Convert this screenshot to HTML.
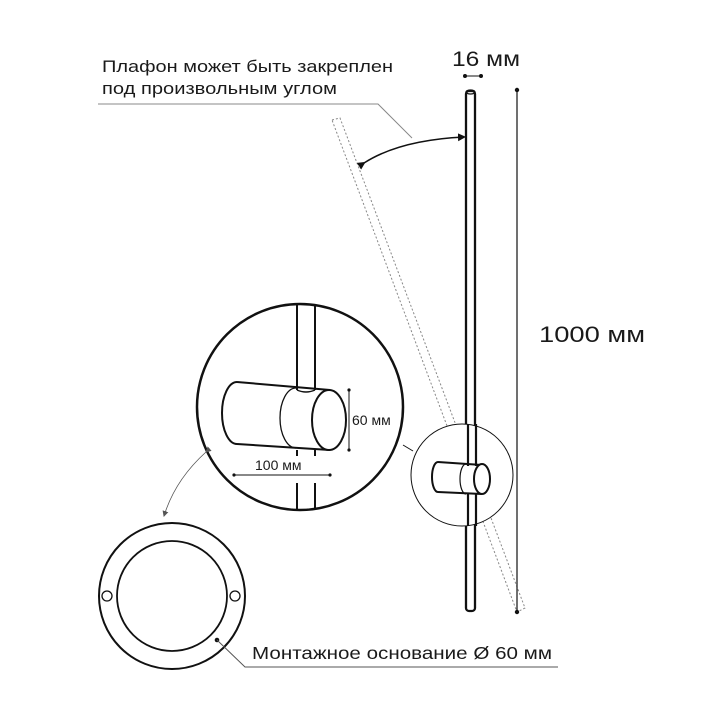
<!DOCTYPE html>
<html><head><meta charset="utf-8"><style>
html,body{margin:0;padding:0;background:#fff;}
svg{display:block;}
text{font-family:"Liberation Sans","DejaVu Sans",sans-serif;fill:#1a1a1a;font-weight:500;}
</style></head><body>
<svg width="720" height="720" viewBox="0 0 720 720" xmlns="http://www.w3.org/2000/svg">
<defs>
<marker id="ah" markerWidth="8" markerHeight="8" refX="6" refY="4" orient="auto" markerUnits="userSpaceOnUse">
<path d="M0,0 L8,4 L0,8 z" fill="#111"/></marker>
<marker id="ahs" markerWidth="6" markerHeight="6" refX="5" refY="3" orient="auto" markerUnits="userSpaceOnUse">
<path d="M0,0 L6,3 L0,6 z" fill="#555"/></marker>
</defs>
<text x="102" y="72" font-size="17" textLength="291" lengthAdjust="spacingAndGlyphs">Плафон может быть закреплен</text>
<text x="102" y="94" font-size="17" textLength="235" lengthAdjust="spacingAndGlyphs">под произвольным углом</text>
<polyline points="98,104 378,104 412,138" fill="none" stroke="#888" stroke-width="1"/>
<text x="452" y="66" font-size="21" textLength="68" lengthAdjust="spacingAndGlyphs">16 мм</text>
<line x1="465" y1="76" x2="481" y2="76" stroke="#111" stroke-width="1"/>
<circle cx="465" cy="76" r="2" fill="#111"/><circle cx="481" cy="76" r="2" fill="#111"/>
<polygon points="332,120 340,118 525,608 517,612" fill="none" stroke="#888" stroke-width="1" stroke-dasharray="2,2"/>
<rect x="466" y="91" width="9" height="520" rx="3" fill="none" stroke="#111" stroke-width="2.3"/>
<ellipse cx="470.5" cy="92" rx="4.5" ry="2" fill="none" stroke="#111" stroke-width="1.2"/>
<path d="M364,163 Q400,140 464,137" fill="none" stroke="#111" stroke-width="1.5" marker-end="url(#ah)" marker-start="url(#ah)"/>
<line x1="517" y1="90" x2="517" y2="612" stroke="#111" stroke-width="1.2"/>
<circle cx="517" cy="90" r="2.2" fill="#111"/><circle cx="517" cy="612" r="2.2" fill="#111"/>
<text x="539" y="342" font-size="22" textLength="106" lengthAdjust="spacingAndGlyphs">1000 мм</text>
<!-- small detail circle -->
<circle cx="462" cy="475" r="51" fill="#fff" stroke="#111" stroke-width="1"/>
<line x1="468" y1="424" x2="468" y2="466" stroke="#111" stroke-width="2.2"/>
<line x1="476" y1="424" x2="476" y2="466" stroke="#111" stroke-width="2.2"/>
<line x1="468" y1="493" x2="468" y2="526" stroke="#111" stroke-width="2.2"/>
<line x1="476" y1="493" x2="476" y2="526" stroke="#111" stroke-width="2.2"/>
<path d="M438,462 L482,465 M438,492 L482,494" stroke="#111" stroke-width="2"/>
<path d="M438,462 A6,15 0 0 0 438,492" fill="none" stroke="#111" stroke-width="2"/>
<path d="M466,464 A6,15 0 0 0 466,494" fill="none" stroke="#111" stroke-width="1.2"/>
<ellipse cx="482" cy="479" rx="8" ry="15" fill="#fff" stroke="#111" stroke-width="2"/>
<line x1="403" y1="445" x2="413" y2="451" stroke="#111" stroke-width="1"/>
<!-- big detail circle -->
<circle cx="300" cy="407" r="103" fill="#fff" stroke="#111" stroke-width="2.5"/>
<line x1="297" y1="305" x2="297" y2="390" stroke="#111" stroke-width="2"/>
<line x1="315" y1="305" x2="315" y2="390" stroke="#111" stroke-width="2"/>
<line x1="297" y1="450" x2="297" y2="456" stroke="#111" stroke-width="2"/>
<line x1="315" y1="450" x2="315" y2="456" stroke="#111" stroke-width="2"/>
<line x1="297" y1="483" x2="297" y2="509" stroke="#111" stroke-width="2"/>
<line x1="315" y1="483" x2="315" y2="509" stroke="#111" stroke-width="2"/>
<path d="M237,382 L330,390 M237,444 L330,450" stroke="#111" stroke-width="2"/>
<path d="M237,382 A15,31 0 0 0 237,444" fill="none" stroke="#111" stroke-width="2"/>
<path d="M296,388 A16,30 0 0 0 296,448" fill="none" stroke="#111" stroke-width="1.3"/>
<ellipse cx="329" cy="420" rx="17" ry="30" fill="#fff" stroke="#111" stroke-width="2"/>
<path d="M297,390 Q306,394 315,390" fill="none" stroke="#111" stroke-width="1.5"/>
<line x1="349" y1="390" x2="349" y2="450" stroke="#111" stroke-width="1"/>
<circle cx="349" cy="390" r="1.6" fill="#111"/><circle cx="349" cy="450" r="1.6" fill="#111"/>
<text x="352" y="425" font-size="14">60 мм</text>
<line x1="234" y1="475" x2="330" y2="475" stroke="#111" stroke-width="1"/>
<circle cx="234" cy="475" r="1.6" fill="#111"/><circle cx="330" cy="475" r="1.6" fill="#111"/>
<text x="255" y="470" font-size="14">100 мм</text>
<path d="M206,452 Q175,480 164,516" fill="none" stroke="#555" stroke-width="0.8" marker-start="url(#ahs)" marker-end="url(#ahs)"/>
<circle cx="172" cy="596" r="73" fill="none" stroke="#111" stroke-width="2"/>
<circle cx="172" cy="596" r="55" fill="none" stroke="#111" stroke-width="1.8"/>
<circle cx="107" cy="596" r="5" fill="none" stroke="#111" stroke-width="1.3"/>
<circle cx="235" cy="596" r="5" fill="none" stroke="#111" stroke-width="1.3"/>
<circle cx="217" cy="640" r="2.3" fill="#111"/>
<polyline points="217,640 245,667 558,667" fill="none" stroke="#555" stroke-width="1"/>
<text x="252" y="659" font-size="17.5" textLength="300" lengthAdjust="spacingAndGlyphs">Монтажное основание Ø 60 мм</text>
</svg>
</body></html>
